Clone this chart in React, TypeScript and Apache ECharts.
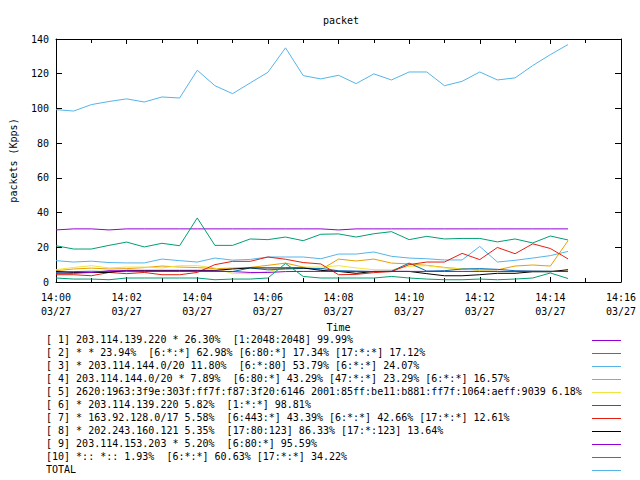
import React, { useEffect, useRef } from "react";
import * as echarts from "echarts";

// sample times, minutes after 14:00 (30 s samples)
const sampleMinutes = [0, 0.5, 1, 1.5, 2, 2.5, 3, 3.5, 4, 4.5, 5, 5.5, 6, 6.5, 7, 7.5, 8, 8.5, 9, 9.5, 10, 10.5, 11, 11.5, 12, 12.5, 13, 13.5, 14, 14.5];

const tickTimes = ["14:00", "14:02", "14:04", "14:06", "14:08", "14:10", "14:12", "14:14", "14:16"];
const tickDate = "03/27";

const seriesNames = [
  "[ 1] 203.114.139.220 * 26.30%  [1:2048:2048] 99.99%",
  "[ 2] * * 23.94%  [6:*:*] 62.98% [6:80:*] 17.34% [17:*:*] 17.12%",
  "[ 3] * 203.114.144.0/20 11.80%  [6:*:80] 53.79% [6:*:*] 24.07%",
  "[ 4] 203.114.144.0/20 * 7.89%  [6:80:*] 43.29% [47:*:*] 23.29% [6:*:*] 16.57%",
  "[ 5] 2620:1963:3f9e:303f:ff7f:f87:3f20:6146 2001:85ff:be11:b881:ff7f:1064:aeff:9039 6.18%",
  "[ 6] * 203.114.139.220 5.82%  [1:*:*] 98.81%",
  "[ 7] * 163.92.128.0/17 5.58%  [6:443:*] 43.39% [6:*:*] 42.66% [17:*:*] 12.61%",
  "[ 8] * 202.243.160.121 5.35%  [17:80:123] 86.33% [17:*:123] 13.64%",
  "[ 9] 203.114.153.203 * 5.20%  [6:80:*] 95.59%",
  "[10] *:: *:: 1.93%  [6:*:*] 60.63% [17:*:*] 34.22%",
  "TOTAL",
];

const seriesColors = ["#9400d3", "#009e73", "#56b4e9", "#e69f00", "#f0e442", "#0072b2", "#e51e10", "#000000", "#9400d3", "#009e73", "#56b4e9"];

const s1 = [30.0, 30.6, 30.6, 30.0, 30.6, 30.6, 30.6, 30.6, 30.6, 30.6, 30.6, 30.6, 30.6, 30.6, 30.6, 30.6, 30.0, 30.6, 30.6, 30.6, 30.6, 30.6, 30.6, 30.6, 30.6, 30.6, 30.6, 30.6, 30.6, 30.6];
const s2 = [20.9, 19.0, 19.0, 21.1, 23.0, 20.2, 22.3, 20.9, 36.9, 21.1, 21.1, 24.8, 24.4, 25.9, 23.8, 27.5, 27.7, 25.9, 27.8, 29.0, 24.4, 26.3, 24.8, 25.1, 25.1, 23.1, 24.8, 22.5, 26.5, 24.2];
const s3 = [12.3, 11.5, 12.0, 11.2, 11.0, 11.0, 13.2, 12.3, 11.5, 13.8, 12.6, 13.0, 14.4, 14.4, 14.4, 13.4, 16.1, 16.1, 17.3, 14.8, 13.8, 13.4, 12.7, 12.7, 20.5, 11.5, 12.5, 13.8, 15.2, 17.6];
const s4 = [6.5, 7.5, 8.0, 7.5, 7.7, 8.3, 9.2, 8.6, 8.3, 7.7, 8.0, 8.4, 9.6, 10.9, 8.6, 7.1, 13.2, 12.1, 13.2, 10.9, 10.4, 9.6, 8.4, 7.5, 7.0, 7.0, 9.2, 9.8, 9.2, 23.8];
const s5 = [7.1, 8.4, 9.4, 8.1, 8.6, 8.6, 8.1, 9.4, 9.4, 8.1, 4.8, 4.8, 6.1, 8.1, 8.6, 8.6, 9.4, 8.1, 7.1, 7.0, 9.0, 9.4, 8.1, 7.7, 6.5, 6.0, 6.0, 6.2, 6.2, 6.5];
const s6 = [5.5, 6.0, 6.2, 6.0, 6.0, 6.0, 6.1, 6.1, 6.1, 6.1, 6.0, 8.1, 7.0, 7.5, 7.8, 7.8, 6.5, 6.3, 6.0, 6.2, 10.9, 6.3, 6.5, 7.5, 7.7, 7.3, 6.5, 6.3, 6.2, 6.0];
const s7 = [4.2, 4.2, 3.6, 5.5, 4.8, 5.5, 4.2, 4.2, 5.5, 10.0, 11.9, 11.9, 14.4, 13.1, 11.2, 10.4, 4.2, 4.4, 5.4, 6.0, 10.0, 11.5, 11.5, 16.5, 12.9, 19.9, 16.3, 22.0, 19.3, 13.3];
const s8 = [6.1, 5.5, 5.5, 5.5, 6.7, 6.7, 6.7, 6.7, 6.7, 6.7, 7.5, 8.1, 8.1, 8.1, 8.1, 6.7, 6.1, 5.0, 6.1, 6.1, 6.1, 4.8, 3.6, 3.6, 4.2, 5.0, 5.0, 5.9, 5.9, 7.1];
const s9 = [5.0, 5.0, 5.5, 6.5, 6.5, 6.3, 6.3, 6.3, 6.3, 6.3, 6.0, 5.5, 5.5, 6.0, 6.1, 6.1, 6.1, 6.1, 6.1, 6.1, 6.1, 6.1, 6.1, 6.1, 6.1, 6.1, 6.1, 6.1, 6.1, 6.1];
const s10 = [2.3, 1.7, 1.7, 1.3, 2.3, 2.3, 2.3, 2.3, 2.3, 1.3, 1.7, 1.7, 2.3, 10.7, 3.2, 2.3, 2.3, 2.3, 2.3, 3.2, 2.3, 1.7, 1.3, 1.3, 1.7, 1.3, 1.7, 2.3, 5.2, 2.0];
const total = [99.3, 98.5, 102.2, 104.0, 105.5, 103.7, 106.6, 106.0, 122.0, 113.1, 108.5, 114.7, 120.8, 134.9, 118.9, 117.0, 119.1, 114.3, 119.9, 116.4, 121.0, 121.0, 113.1, 115.6, 121.0, 116.4, 117.6, 124.7, 131.0, 136.8];

const allSeries = [s1, s2, s3, s4, s5, s6, s7, s8, s9, s10, total];

const FONT = "'DejaVu Sans Mono', monospace";

export default function App() {
  const ref = useRef<HTMLDivElement>(null);
  useEffect(() => {
    if (!ref.current) return;
    const chart = echarts.init(ref.current, undefined, { renderer: "svg" });
    const left = 52, top = 39, width = 569, height = 243;
    const legendTop = 340, legendStep = 13;
    const xBase = {
      type: "value" as const,
      min: 0,
      max: 16,
      interval: 2,
      splitLine: { show: false },
      axisLine: { show: true, onZero: false, lineStyle: { color: "#000", width: 1 } },
      axisTick: { show: true, inside: true, length: 5, lineStyle: { color: "#000" } },
      minorTick: { show: true, splitNumber: 2, length: 4, lineStyle: { color: "#000" } },
    };
    const yBase = {
      type: "value" as const,
      min: 0,
      max: 140,
      interval: 20,
      splitLine: { show: false },
      axisLine: { show: true, onZero: false, lineStyle: { color: "#000", width: 1 } },
      axisTick: { show: true, inside: true, length: 6, lineStyle: { color: "#000" } },
    };
    const graphic: any[] = [];
    seriesNames.forEach((name, i) => {
      const y = legendTop + i * legendStep;
      graphic.push({
        type: "text",
        left: 46,
        top: y - 6,
        style: { text: name, font: `10px ${FONT}`, fill: "#000" },
      });
      graphic.push({
        type: "line",
        shape: { x1: 592, y1: y + 0.5, x2: 621, y2: y + 0.5 },
        style: { stroke: seriesColors[i], lineWidth: 1 },
      });
    });
    chart.setOption({
      animation: false,
      backgroundColor: "#fff",
      title: {
        text: "packet",
        left: 336,
        top: 10,
        textAlign: "center",
        textStyle: { fontFamily: FONT, fontSize: 10, fontWeight: "normal", color: "#000" },
      },
      grid: { left, top, width, height, show: false },
      xAxis: [
        {
          ...xBase,
          position: "bottom",
          name: "Time",
          nameLocation: "middle",
          nameGap: 40,
          nameTextStyle: { fontFamily: FONT, fontSize: 10, color: "#000" },
          axisLabel: {
            margin: 8,
            fontFamily: FONT,
            fontSize: 10,
            color: "#000",
            lineHeight: 14,
            formatter: (v: number) => `${tickTimes[Math.round(v / 2)]}\n${tickDate}`,
          },
        },
        { ...xBase, position: "top", axisLabel: { show: false } },
      ],
      yAxis: [
        {
          ...yBase,
          position: "left",
          name: "packets (Kpps)",
          nameLocation: "middle",
          nameRotate: 90,
          nameGap: 38,
          nameTextStyle: { fontFamily: FONT, fontSize: 10, color: "#000" },
          axisLabel: { margin: 7, fontFamily: FONT, fontSize: 10, color: "#000" },
        },
        { ...yBase, position: "right", axisLabel: { show: false } },
      ],
      series: allSeries.map((vals, i) => ({
        type: "line",
        name: seriesNames[i],
        data: vals.map((v, k) => [sampleMinutes[k], v]),
        showSymbol: false,
        symbol: "none",
        lineStyle: { color: seriesColors[i], width: 1 },
        itemStyle: { color: seriesColors[i] },
        z: 2,
      })),
      graphic,
    });
    return () => chart.dispose();
  }, []);
  return (
    <div
      ref={ref}
      style={{ position: "fixed", left: 0, top: 0, width: 640, height: 480, background: "#fff" }}
    />
  );
}
